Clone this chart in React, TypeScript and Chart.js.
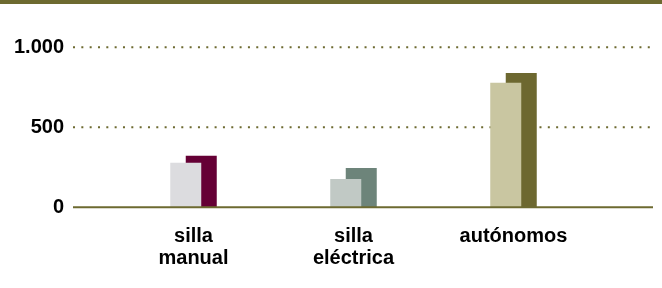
import React, { useEffect, useRef } from 'react';
import { Chart, registerables } from 'chart.js';

Chart.register(...registerables);

const categories: string[][] = [['silla', 'manual'], ['silla', 'eléctrica'], ['autónomos']];
const seriesFront = [279, 177, 779];
const seriesBack = [322, 245, 839];
const yTicks = [0, 500, 1000];
const colorsFront = ['#dcdcdf', '#c1c9c5', '#c9c6a1'];
const colorsBack = ['#650035', '#6d847a', '#6d6830'];

const OLIVE = '#6d6a30';
const FONT = "'Liberation Sans', Arial, Helvetica, sans-serif";

const fmt = (v: number) => String(v).replace(/\B(?=(\d{3})+(?!\d))/g, '.');

const decorPlugin = {
  id: 'decor',
  beforeDraw(chart: any) {
    const ctx = chart.ctx;
    ctx.save();
    ctx.fillStyle = OLIVE;
    ctx.fillRect(0, 0, chart.width, 4);
    ctx.restore();
  },
  beforeDatasetsDraw(chart: any) {
    const ctx = chart.ctx;
    const y = chart.scales.y;
    ctx.save();
    ctx.strokeStyle = OLIVE;
    ctx.lineWidth = 2;
    ctx.setLineDash([2, 6.33]);
    yTicks.forEach((v) => {
      if (v === 0) return;
      const py = y.getPixelForValue(v);
      ctx.beginPath();
      ctx.moveTo(73, py);
      ctx.lineTo(653, py);
      ctx.stroke();
    });
    ctx.restore();
  },
  afterDatasetsDraw(chart: any) {
    const ctx = chart.ctx;
    const y = chart.scales.y;
    const py = y.getPixelForValue(0);
    ctx.save();
    ctx.strokeStyle = OLIVE;
    ctx.lineWidth = 2;
    ctx.beginPath();
    ctx.moveTo(73, py);
    ctx.lineTo(653, py);
    ctx.stroke();
    ctx.restore();
  },
};

export default function App() {
  const ref = useRef<HTMLCanvasElement>(null);
  useEffect(() => {
    document.body.style.margin = '0';
    const chart = new Chart(ref.current!, {
      type: 'bar',
      data: {
        labels: categories as any,
        datasets: [
          {
            data: seriesFront,
            backgroundColor: colorsFront,
            categoryPercentage: 0.19375,
            barPercentage: 2,
          },
          {
            data: seriesBack,
            backgroundColor: colorsBack,
            categoryPercentage: 0.19375,
            barPercentage: 2,
          },
        ],
      },
      options: {
        responsive: false,
        animation: false,
        layout: { padding: { left: 0, right: 68.5, top: 47.3, bottom: 0 } },
        plugins: { legend: { display: false }, tooltip: { enabled: false } },
        scales: {
          x: {
            grid: { display: false },
            border: { display: false },
            ticks: {
              color: '#000',
              padding: 10,
              maxRotation: 0,
              autoSkip: false,
              font: { family: FONT, size: 20, weight: 'bold', lineHeight: 1.1 },
            },
            afterFit: (s: any) => {
              s.height = 80.7;
              s.paddingLeft = 0;
              s.paddingRight = 0;
            },
          },
          y: {
            min: 0,
            max: 1000,
            grid: { display: false, drawTicks: false },
            border: { display: false },
            afterBuildTicks: (s: any) => {
              s.ticks = yTicks.map((v) => ({ value: v }));
            },
            ticks: {
              color: '#000',
              padding: 49.5,
              callback: (v: any) => fmt(Number(v)),
              font: { family: FONT, size: 20, weight: 'bold' },
            },
            afterFit: (s: any) => {
              s.width = 113.5;
              s.paddingTop = 0;
              s.paddingBottom = 0;
            },
          },
        },
      },
      plugins: [decorPlugin],
    } as any);
    return () => chart.destroy();
  }, []);
  return (
    <div style={{ width: 662, height: 288 }}>
      <canvas ref={ref} width={662} height={288} style={{ display: 'block' }} />
    </div>
  );
}
